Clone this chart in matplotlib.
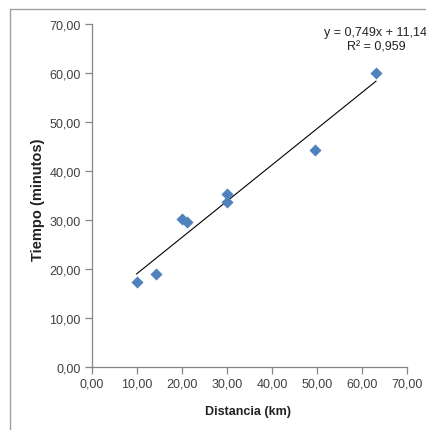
import matplotlib
matplotlib.use("Agg")
import matplotlib.pyplot as plt
import numpy as np

plt.rcParams['font.family'] = ['Liberation Sans', 'DejaVu Sans']

distancia = [9.9, 14.3, 19.9, 21.1, 30.0, 30.0, 49.6, 63.1]
tiempo = [17.3, 18.9, 30.2, 29.6, 33.6, 35.2, 44.2, 60.0]
ticks = [0, 10, 20, 30, 40, 50, 60, 70]
tick_labels = ["0,00", "10,00", "20,00", "30,00", "40,00", "50,00", "60,00", "70,00"]

W, H = 427, 431
fig = plt.figure(figsize=(W / 100, H / 100), dpi=100)
ax = fig.add_axes([92 / W, 1 - 367.7 / H, (407 - 92) / W, (367.7 - 25) / H])

# border of the chart area (only left and top are visible in the picture)
fig.add_artist(plt.Rectangle((10 / W, -0.1), 1.2, 1 - 10 / H + 0.1, transform=fig.transFigure,
                             fill=False, edgecolor='#a0a0a0', linewidth=1))

ax.scatter(distancia, tiempo, marker='D', s=38, color='#4F81BD', zorder=3, linewidths=0)

m, b = np.polyfit(distancia, tiempo, 1)
xs = np.array([min(distancia), max(distancia)])
ax.plot(xs, m * xs + b, color='black', linewidth=0.8, zorder=2)

ax.set_xlim(0, 70)
ax.set_ylim(0, 70)
ax.set_xticks(ticks)
ax.set_xticklabels(tick_labels)
ax.set_yticks(ticks)
ax.set_yticklabels(tick_labels)

for s in ['top', 'right']:
    ax.spines[s].set_visible(False)
for s in ['left', 'bottom']:
    ax.spines[s].set_color('#868686')
    ax.spines[s].set_linewidth(0.9)
ax.tick_params(direction='out', length=5, width=0.9, color='#868686',
               labelsize=9, labelcolor='#404040', pad=3)

fig.text(38 / W, 1 - 200 / H, "Tiempo (minutos)", rotation=90, ha='center', va='center',
         fontsize=10.5, fontweight='bold', color='#222222')
fig.text(248 / W, 1 - 412 / H, "Distancia (km)", ha='center', va='center',
         fontsize=9, fontweight='bold', color='#222222')

fig.text(376 / W, 1 - 33 / H, "y = 0,749x + 11,14", ha='center', va='center',
         fontsize=9, color='#222222')
fig.text(376 / W, 1 - 47 / H, "R² = 0,959", ha='center', va='center',
         fontsize=9, color='#222222')

fig.savefig("out.png", dpi=100)
